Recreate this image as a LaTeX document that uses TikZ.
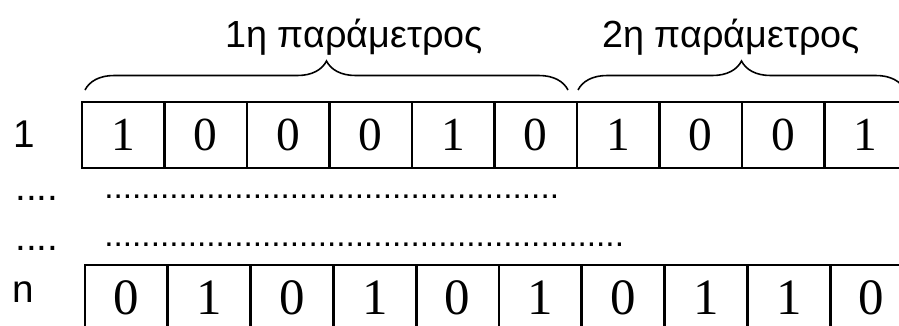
\documentclass[tikz,border=0pt]{standalone}
\usepackage{fontspec}
\newfontfamily\labelfont{Liberation Sans}
\newfontfamily\bitfont{Liberation Serif}
\usetikzlibrary{decorations.pathreplacing}

% a run of #1 full stops
\newcommand{\dotrun}[1]{\foreach \k in {1,...,#1}{.}}

\tikzset{
  bit/.style={draw, line width=1.4pt, minimum width=1.65cm, minimum height=1.32cm,
    inner sep=0pt, outer sep=0pt, font=\bitfont\fontsize{27}{30}\selectfont},
  head/.style={font=\labelfont\fontsize{21.5}{26}\selectfont, inner sep=0pt},
  rowlabel/.style={font=\labelfont\fontsize{22}{26}\selectfont, inner sep=0pt, anchor=base west},
  dotline/.style={rowlabel, font=\labelfont\fontsize{19}{22}\selectfont},
  brace/.style={decorate, decoration={brace, amplitude=0.58cm}, line width=0.9pt}
}

\begin{document}
\begin{tikzpicture}[x=0.02cm, y=-0.02cm]
\useasboundingbox (0,0) rectangle (899,325);
\clip (0,0) rectangle (899,325);

% first chromosome
\foreach \b [count=\i] in {1,0,0,0,1,0,1,0,0,1}
  \node[bit] (a\i) at ({82+82.5*(\i-0.5)},135) {\b};

% last chromosome
\foreach \b [count=\i] in {0,1,0,1,0,1,0,1,1,0}
  \node[bit, font=\bitfont\fontsize{29}{32}\selectfont] (z\i) at ({85+82.8*(\i-0.5)},298) {\b};

% the two parameters
\coordinate (p1s) at (85,90);
\coordinate (p1e) at (568,90);
\coordinate (p2s) at (578,90);
\coordinate (p2e) at (905,90);
\draw[brace] (p1s) -- (p1e);
\draw[brace] (p2s) -- (p2e);
\node[head] (par1) at (354,37) {1η παράμετρος};
\node[head] (par2) at (731,37) {2η παράμετρος};

% row labels
\node[rowlabel] (lab1) at (13,147) {1};
\node[rowlabel] (dots1) at (15,200) {....};
\node[rowlabel] (dots2) at (15,250) {....};
\node[rowlabel] (labn) at (12,302) {n};

\node[dotline] (run1) at (104,198) {\dotrun{49}};
\node[dotline] (run2) at (104,246) {\dotrun{56}};
\end{tikzpicture}
\end{document}
